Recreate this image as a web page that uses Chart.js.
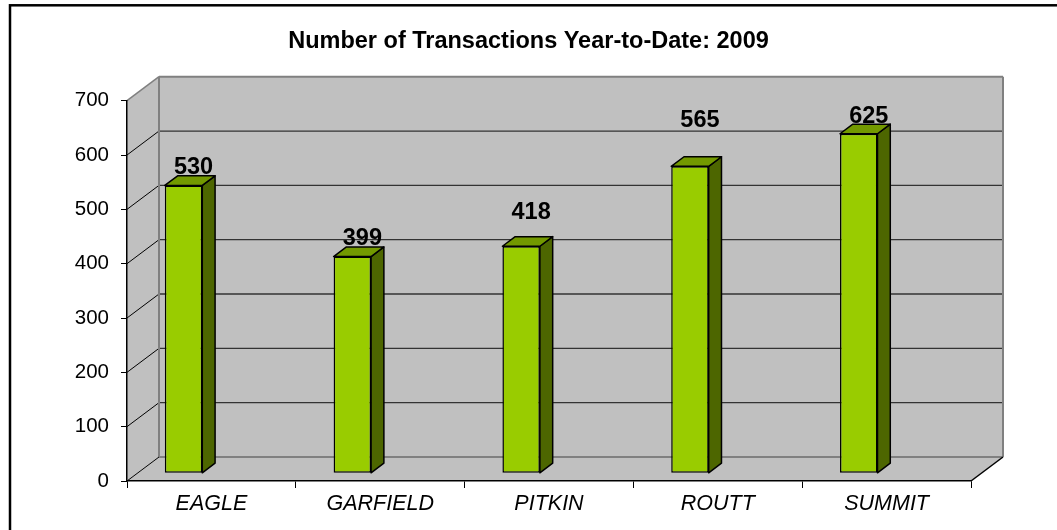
<!DOCTYPE html>
<html>
<head>
<meta charset="utf-8">
<title>Number of Transactions Year-to-Date: 2009</title>
<script src="https://cdn.jsdelivr.net/npm/chart.js@4.4.1/dist/chart.umd.min.js"></script>
<style>
  html, body { margin: 0; padding: 0; background: #fff; }
  #chart-section { width: 1057px; height: 530px; }
</style>
</head>
<body>
<div id="chart-section"><canvas id="bar-chart" width="1057" height="530"></canvas></div>
<script>
const TITLE = "Number of Transactions Year-to-Date: 2009";
const COUNTIES = ["EAGLE", "GARFIELD", "PITKIN", "ROUTT", "SUMMIT"];
const TRANSACTIONS = [530, 399, 418, 565, 625];
const Y_TICKS = [0, 100, 200, 300, 400, 500, 600, 700];

const FONT = "'Liberation Sans', Arial, sans-serif";

// Fake 3D box, the way Excel draws a 3-D column chart.
const DEPTH = { x: 32, y: -24 };    // front plane to back wall
const BAR_AT = 0.32;                // bars stand this far into the box
const BAR_DEPTH = 0.4;              // and are this deep
const BAR_SHIFT = -0.165;           // columns sit left of the category middle (share of a category)
const LABEL_LIFT = [0, 0, 16, 28, 0]; // Excel put two labels higher up

const WALL = "#c0c0c0";
const WALL_EDGE = "#808080";
const GRID = "#333333";
const FRONT_FACE = "#99cc00";
const TOP_FACE = "#739900";
const SIDE_FACE = "#4d6600";

function Poly(ctx, pts, fill, stroke, width) {
    // Fill and/or stroke a closed polygon given as [[x, y], ...].
    ctx.beginPath();
    ctx.moveTo(pts[0][0], pts[0][1]);
    for (let i = 1; i < pts.length; i++) ctx.lineTo(pts[i][0], pts[i][1]);
    ctx.closePath();
    if (fill) { ctx.fillStyle = fill; ctx.fill(); }
    if (stroke) { ctx.strokeStyle = stroke; ctx.lineWidth = width || 1; ctx.stroke(); }
}

function Line(ctx, x1, y1, x2, y2, color, width) {
    ctx.beginPath();
    ctx.moveTo(x1, y1);
    ctx.lineTo(x2, y2);
    ctx.strokeStyle = color;
    ctx.lineWidth = width;
    ctx.stroke();
}

function BarOffset(chart) {
    // Where the bars go: a bit into the box and left of the category middle.
    const xs = chart.scales.x;
    const cat = (xs.right - xs.left) / COUNTIES.length;
    return { x: BAR_SHIFT * cat, y: BAR_AT * DEPTH.y };
}

const box3d = {
    id: "box3d",
    beforeDraw(chart) {
        const ctx = chart.ctx;
        const xs = chart.scales.x, ys = chart.scales.y;
        const l = xs.left, r = xs.right;
        const t = ys.getPixelForValue(Y_TICKS[Y_TICKS.length - 1]);
        const b = ys.getPixelForValue(Y_TICKS[0]);
        const dx = DEPTH.x, dy = DEPTH.y;

        ctx.save();
        // outer chart border (only left and top show in the picture)
        ctx.strokeStyle = "#000";
        ctx.lineWidth = 2.5;
        ctx.strokeRect(10, 5.3, 1200, 700);

        // walls and floor
        Poly(ctx, [[l + dx, t + dy], [r + dx, t + dy], [r + dx, b + dy], [l + dx, b + dy]], WALL);
        Poly(ctx, [[l, t], [l + dx, t + dy], [l + dx, b + dy], [l, b]], WALL);
        Poly(ctx, [[l, b], [r, b], [r + dx, b + dy], [l + dx, b + dy]], WALL);

        // gridlines on the back wall and the side wall
        ys.ticks.forEach(function (tk) {
            if (tk.value === Y_TICKS[0] || tk.value === Y_TICKS[Y_TICKS.length - 1]) return;
            const py = ys.getPixelForValue(tk.value);
            Line(ctx, l + dx, py + dy, r + dx, py + dy, GRID, 1.3);
            Line(ctx, l, py, l + dx, py + dy, "#000", 1);
        });

        // wall edges
        ctx.lineJoin = "miter";
        Line(ctx, l + dx, t + dy, r + dx, t + dy, WALL_EDGE, 2);
        Line(ctx, r + dx, t + dy, r + dx, b + dy, WALL_EDGE, 2);
        Line(ctx, l + dx, t + dy, l + dx, b + dy, WALL_EDGE, 2);
        Line(ctx, l + dx, b + dy, r + dx, b + dy, WALL_EDGE, 2);
        Line(ctx, l, t, l + dx, t + dy, WALL_EDGE, 1.5);
        Line(ctx, l, b, l + dx, b + dy, "#000", 1);
        Line(ctx, r, b, r + dx, b + dy, "#000", 1.5);
        ctx.restore();
    },
    beforeDatasetsDraw(chart) {
        const off = BarOffset(chart);
        chart.ctx.save();
        chart.ctx.translate(off.x, off.y);
    },
    afterDatasetsDraw(chart) {
        const ctx = chart.ctx;
        const ddx = BAR_DEPTH * DEPTH.x, ddy = BAR_DEPTH * DEPTH.y;
        const meta = chart.getDatasetMeta(0);
        ctx.lineJoin = "round";
        meta.data.forEach(function (bar, i) {
            const p = bar.getProps(["x", "y", "base", "width"], true);
            const left = p.x - p.width / 2, right = p.x + p.width / 2;
            const top = p.y, bottom = p.base;
            Poly(ctx, [[right, top], [right + ddx, top + ddy], [right + ddx, bottom + ddy], [right, bottom]],
                 SIDE_FACE, "#000", 1.5);
            Poly(ctx, [[left, top], [left + ddx, top + ddy], [right + ddx, top + ddy], [right, top]],
                 TOP_FACE, "#000", 1.5);

            ctx.fillStyle = "#000";
            ctx.font = "bold 23.5px " + FONT;
            ctx.textAlign = "center";
            ctx.textBaseline = "alphabetic";
            ctx.fillText(String(TRANSACTIONS[i]), p.x + 10, top + ddy - 1.5 - LABEL_LIFT[i]);
        });
        ctx.restore();
    }
};

new Chart(document.getElementById("bar-chart"), {
    type: "bar",
    plugins: [box3d],
    data: {
        labels: COUNTIES,
        datasets: [{
            label: "Transactions",
            data: TRANSACTIONS,
            backgroundColor: FRONT_FACE,
            borderColor: "#000",
            borderWidth: 1.5,
            borderSkipped: false,
            barPercentage: 0.222,
            categoryPercentage: 1,
            clip: false
        }]
    },
    options: {
        responsive: false,
        animation: false,
        events: [],
        layout: { padding: 0 },
        plugins: {
            legend: { display: false },
            tooltip: { enabled: false },
            title: {
                display: true,
                text: TITLE,
                color: "#000",
                font: { family: FONT, size: 23.5, weight: "bold" },
                padding: { top: 27.7, bottom: 44.8 }
            }
        },
        scales: {
            x: {
                afterFit: function (scale) { scale.height = 49; },
                grid: { display: true, offset: true, drawOnChartArea: false, tickLength: 7, color: "#000", tickWidth: 1 },
                border: { color: "#000", width: 1.5 },
                ticks: { color: "#000", padding: 3, font: { family: FONT, size: 21.5, style: "italic" } }
            },
            y: {
                min: Y_TICKS[0],
                max: Y_TICKS[Y_TICKS.length - 1],
                afterFit: function (scale) { scale.width = 127; },
                afterBuildTicks: function (scale) {
                    scale.ticks = Y_TICKS.map(function (v) { return { value: v }; });
                },
                grid: { display: true, drawOnChartArea: false, tickLength: 6, color: "#000", tickWidth: 1 },
                border: { color: "#000", width: 1.5 },
                ticks: { color: "#000", padding: 12, font: { family: FONT, size: 20.5 } }
            },
            // empty room on the right, where the 3D box sticks out
            spacer: {
                type: "linear",
                position: "right",
                afterFit: function (scale) { scale.width = 86; },
                grid: { display: false },
                border: { display: false },
                ticks: { display: false }
            }
        }
    }
});
</script>
</body>
</html>
